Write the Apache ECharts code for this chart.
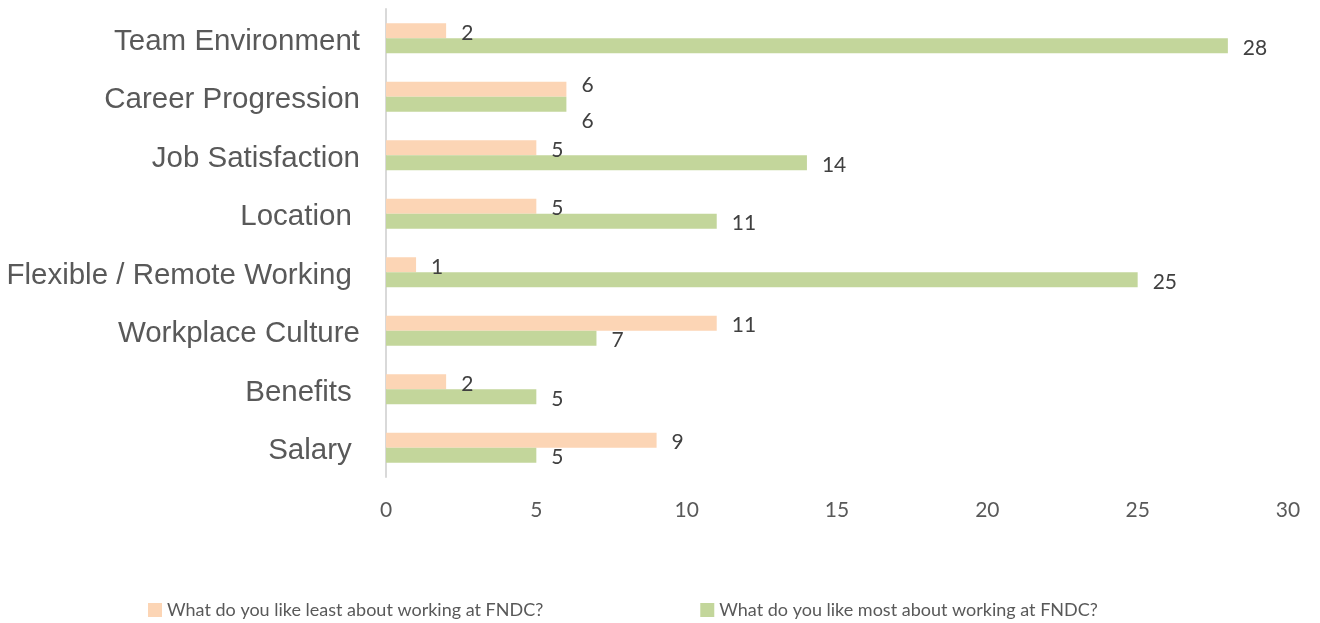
<!DOCTYPE html>
<html>
<head>
<meta charset="utf-8">
<script src="https://cdn.jsdelivr.net/npm/echarts@6/dist/echarts.min.js"></script>
<style>
html,body{margin:0;padding:0;background:#fff;}
#chart{width:1320px;height:623px;}
</style>
</head>
<body>
<div id="chart"></div>
<script>
// Categories listed top to bottom
const categories = ['Team Environment', 'Career Progression', 'Job Satisfaction', 'Location ', 'Flexible / Remote Working ', 'Workplace Culture', 'Benefits ', 'Salary '];
const leastValues = [2, 6, 5, 5, 1, 11, 2, 9];
const mostValues = [28, 6, 14, 11, 25, 7, 5, 5];
const seriesNames = ['What do you like least about working at FNDC?', 'What do you like most about working at FNDC?'];
const xTicks = [0, 5, 10, 15, 20, 25, 30];

const chart = echarts.init(document.getElementById('chart'), null, {renderer: 'canvas'});
const labelStyle = {
  show: true, position: 'right', distance: 15, offset: [0, 2],
  color: '#404040', fontFamily: 'Lato', fontSize: 21
};
// In the reference, the two equal labels of "Career Progression" are pushed apart
function buildData(values, shiftIdx, dy) {
  return values.map((v, i) => i === shiftIdx ? {value: v, label: {offset: [0, dy]}} : v);
}
chart.setOption({
  animation: false,
  grid: {left: 386, right: 32, top: 9, height: 468, containLabel: false},
  legend: {
    data: seriesNames,
    top: 596,
    left: 143,
    itemWidth: 14, itemHeight: 14, itemGap: 157,
    icon: 'rect',
    textStyle: {color: '#595959', fontFamily: 'Lato', fontSize: 18}
  },
  xAxis: {
    type: 'value', min: xTicks[0], max: xTicks[xTicks.length - 1], interval: 5,
    axisLine: {show: false}, axisTick: {show: false}, splitLine: {show: false},
    axisLabel: {color: '#595959', fontFamily: 'Lato', fontSize: 21, margin: 23}
  },
  yAxis: {
    type: 'category', data: categories, inverse: true,
    axisLine: {show: true, lineStyle: {color: '#D9D9D9', width: 2}},
    axisTick: {show: false},
    axisLabel: {
      margin: 26,
      formatter: v => '{c|' + v + '}',
      rich: {c: {color: '#595959', fontFamily: 'Liberation Sans', fontSize: 29.5, lineHeight: 30, padding: [7, 0, 0, 0]}}
    }
  },
  series: [
    {name: seriesNames[0], type: 'bar', data: buildData(leastValues, 1, -4), barWidth: 15, barGap: '0%',
     itemStyle: {color: '#FCD5B5'}, label: labelStyle},
    {name: seriesNames[1], type: 'bar', data: buildData(mostValues, 1, 17), barWidth: 15, barGap: '0%',
     itemStyle: {color: '#C3D69B'}, label: labelStyle}
  ]
});
</script>
</body>
</html>
